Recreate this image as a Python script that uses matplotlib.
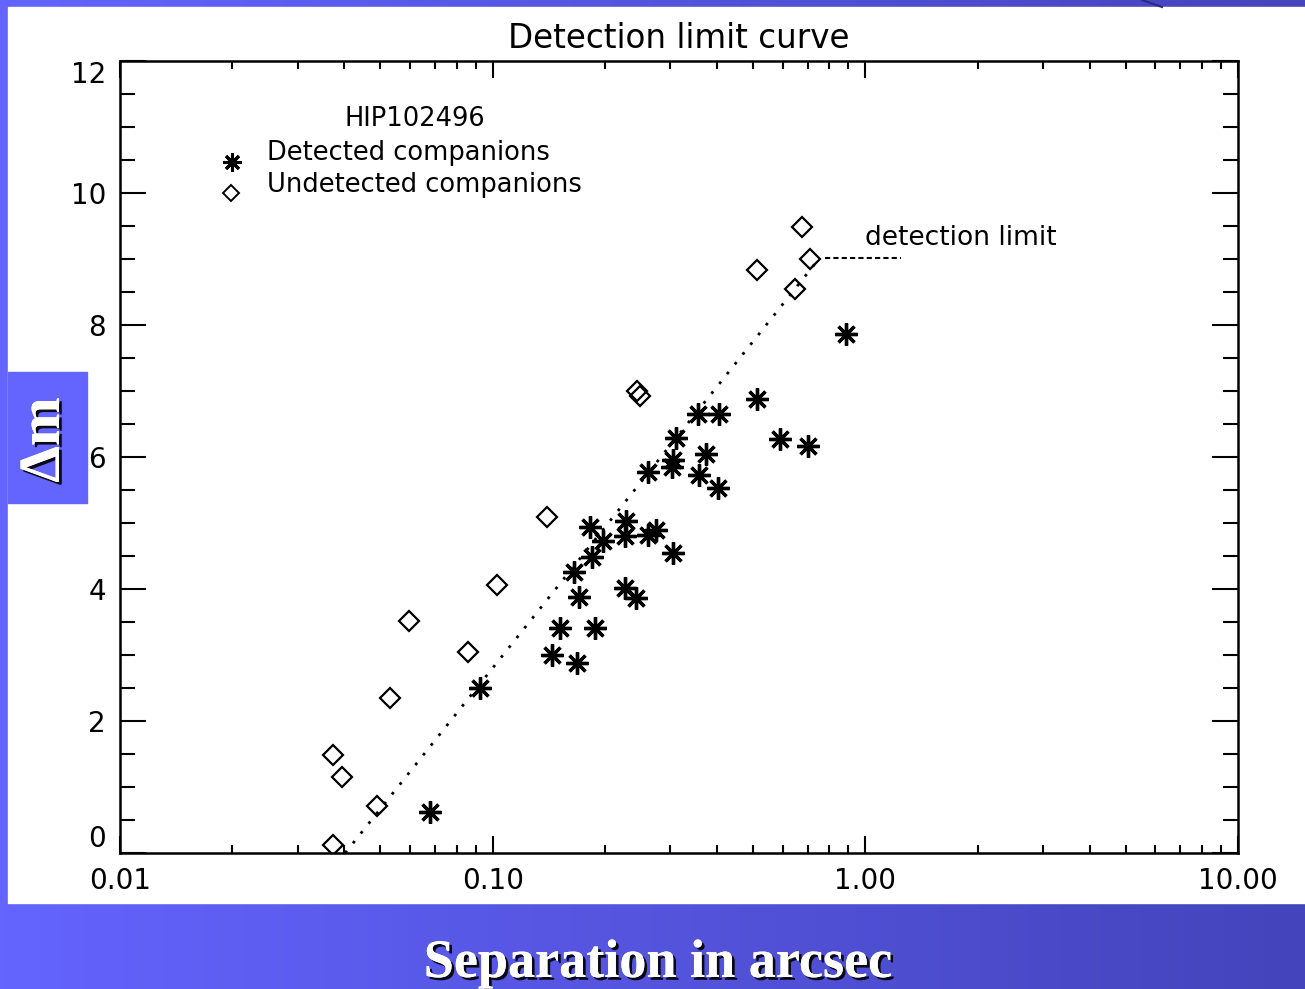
import matplotlib
matplotlib.use("Agg")
import matplotlib.pyplot as plt
import matplotlib.patheffects as pe
from matplotlib.patches import Rectangle
from matplotlib.ticker import FixedLocator, LogLocator, MultipleLocator, NullFormatter
import numpy as np

# detected companions (separation in arcsec, delta mag)
det_sep = [0.068, 0.0925, 0.144, 0.152, 0.168, 0.171, 0.165, 0.188, 0.185, 0.183,
           0.198, 0.227, 0.243, 0.227, 0.228, 0.261, 0.274, 0.305, 0.261, 0.303,
           0.305, 0.31, 0.358, 0.374, 0.402, 0.356, 0.405, 0.512, 0.59, 0.70, 0.887]
det_dm = [0.62, 2.50, 3.00, 3.41, 2.88, 3.88, 4.26, 3.41, 4.48, 4.94,
          4.73, 4.02, 3.86, 4.80, 5.03, 4.82, 4.89, 4.55, 5.77, 5.85,
          5.95, 6.29, 5.73, 6.05, 5.53, 6.65, 6.65, 6.88, 6.27, 6.17, 7.86]

# undetected companions
und_sep = [0.0373, 0.0373, 0.0394, 0.0489, 0.053, 0.0596, 0.0858, 0.1027, 0.1398,
           0.244, 0.2484, 0.512, 0.647, 0.676, 0.71]
und_dm = [0.12, 1.48, 1.15, 0.71, 2.35, 3.52, 3.05, 4.06, 5.09,
          7.00, 6.92, 8.83, 8.55, 9.48, 9.00]

# detection limit curve
limit_sep = [0.0402, 0.755]
limit_dm = [0.0, 9.02]
plateau_sep = [0.78, 1.25]
plateau_dm = [9.02, 9.02]

x_ticks = [0.01, 0.1, 1.0, 10.0]
x_labels = ["0.01", "0.10", "1.00", "10.00"]
y_ticks = [0, 2, 4, 6, 8, 10, 12]

W, H = 1305, 989
fig = plt.figure(figsize=(W / 100, H / 100), dpi=100)

# slide background: blue gradient with a white panel
bg = fig.add_axes([0, 0, 1, 1], zorder=-1)
grad = np.linspace(0, 1, 256)
c0 = np.array([100, 100, 255]) / 255
c1 = np.array([68, 68, 188]) / 255
img = c0[None, :] * (1 - grad[:, None]) + c1[None, :] * grad[:, None]
bg.imshow(img[None, :, :], extent=[0, W, H, 0], aspect="auto")
bg.add_patch(Rectangle((8, 7), W - 8, 903 - 7, color="white"))
bg.add_patch(Rectangle((8, 372), 79, 131, color="#6464ff"))
bg.plot([1142, 1162], [0, 7], color="#2a2a80", lw=1.5)
bg.set_xlim(0, W)
bg.set_ylim(H, 0)
bg.axis("off")

shadow = [pe.withSimplePatchShadow(offset=(2, -2), shadow_rgbFace="black", alpha=0.9), pe.Normal()]
bg.text(658, 964, "Separation in arcsec", color="white", fontsize=39, fontweight="bold",
        family="Liberation Serif", ha="center", va="center", path_effects=shadow)
bg.text(45, 440, "Δm", color="white", fontsize=42, fontweight="bold", rotation=90,
        family="Liberation Serif", ha="center", va="center", path_effects=shadow)

# the plot
ax = fig.add_axes([120 / W, 1 - 853 / H, 1118 / W, 792 / H])
ax.set_xscale("log")
ax.set_xlim(0.01, 10)
ax.set_ylim(0, 12)

ax.plot(limit_sep, limit_dm, color="black", lw=2, linestyle=(0, (1, 3.5)))
ax.plot(plateau_sep, plateau_dm, color="black", lw=1.5, linestyle=(0, (2.5, 1.5)))

ax.plot(det_sep, det_dm, linestyle="none", marker=(8, 2, 0), markersize=16,
        markeredgewidth=2.4, color="black")
ax.plot(und_sep, und_dm, linestyle="none", marker="D", markersize=10,
        markerfacecolor="none", markeredgecolor="black", markeredgewidth=1.6)

ax.text(1.0, 9.32, "detection limit", fontsize=19, ha="left", va="center")

# legend drawn as text, like the original
ax.text(0.2004, 0.9268, "HIP102496", transform=ax.transAxes, fontsize=18.5, ha="left", va="center")
ax.text(0.1315, 0.8838, "Detected companions", transform=ax.transAxes, fontsize=18.5,
        ha="left", va="center")
ax.text(0.1315, 0.8434, "Undetected companions", transform=ax.transAxes, fontsize=18.5,
        ha="left", va="center")
ax.plot([0.1002], [0.873], transform=ax.transAxes, marker=(8, 2, 0), markersize=13,
        markeredgewidth=2.2, color="black", linestyle="none")
ax.plot([0.0993], [0.8333], transform=ax.transAxes, marker="D", markersize=8,
        markerfacecolor="none", markeredgecolor="black", markeredgewidth=1.4, linestyle="none")

ax.set_title("Detection limit curve", fontsize=23.5, pad=9)

ax.xaxis.set_major_locator(FixedLocator(x_ticks))
ax.set_xticklabels(x_labels)
ax.xaxis.set_minor_locator(LogLocator(base=10, subs=np.arange(2, 10)))
ax.xaxis.set_minor_formatter(NullFormatter())
ax.set_yticks(y_ticks)
ax.yaxis.set_minor_locator(MultipleLocator(0.5))

ax.tick_params(axis="x", which="major", direction="in", length=12, width=1.5,
               top=True, labelsize=20, pad=10)
ax.tick_params(axis="x", which="minor", direction="in", length=6, width=1.5, top=True)
ax.tick_params(axis="y", which="major", direction="in", length=19, width=1.5,
               right=True, labelsize=20, pad=10)
ax.tick_params(axis="y", which="minor", direction="in", length=11, width=1.5, right=True)

ylabels = ax.get_yticklabels()
ylabels[0].set_va("bottom")
ylabels[-1].set_va("top")

for s in ax.spines.values():
    s.set_linewidth(1.8)

fig.savefig("out.png", dpi=100)
